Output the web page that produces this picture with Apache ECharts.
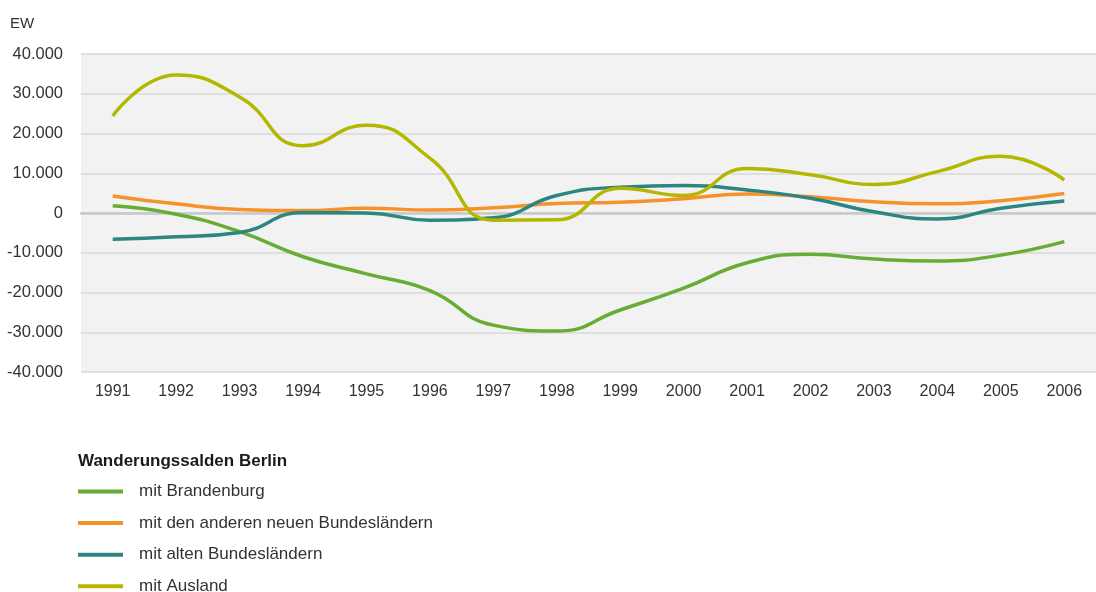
<!DOCTYPE html>
<html>
<head>
<meta charset="utf-8">
<script src="https://cdn.jsdelivr.net/npm/echarts@6/dist/echarts.min.js"></script>
<style>
  html, body { margin: 0; padding: 0; background: #fff; }
  #chart { width: 1096px; height: 592px; }
</style>
</head>
<body>
<div id="chart"></div>
<script>
// Jahre
const years = ["1991", "1992", "1993", "1994", "1995", "1996", "1997", "1998",
  "1999", "2000", "2001", "2002", "2003", "2004", "2005", "2006"];

// Wanderungssalden (EW)
const brandenburg = [1800, -300, -4700, -11000, -15300, -19500, -28200, -29700,
  -24400, -18900, -12500, -10400, -11600, -12100, -10600, -7200];
const neueLaender = [4300, 2300, 900, 600, 1200, 750, 1300, 2400,
  2700, 3600, 4800, 4100, 2800, 2300, 3100, 4900];
const alteLaender = [-6600, -6000, -4900, 100, 0, -1800, -1200, 4400,
  6500, 6900, 5800, 3700, 300, -1500, 1200, 3000];
const ausland = [24400, 34700, 29200, 16900, 22100, 13800, -1800, -1700,
  6200, 4400, 11200, 9600, 7200, 10400, 14300, 8300];

const seriesNames = ["mit Brandenburg", "mit den anderen neuen Bundesländern",
  "mit alten Bundesländern", "mit Ausland"];
const colors = ["#67ad35", "#f5922a", "#2b8681", "#b4b600"];

const font = "'Liberation Sans', Arial, sans-serif";

const chart = echarts.init(document.getElementById("chart"));

function line(name, data, color) {
  return {
    name: name,
    type: "line",
    data: data,
    smooth: 0.5,
    symbol: "none",
    lineStyle: { width: 3.5, color: color },
    itemStyle: { color: color }
  };
}

const option = {
  animation: false,
  textStyle: { fontFamily: font },
  title: [
    {
      text: "EW",
      left: 5,
      top: 11,
      textStyle: { fontSize: 15, fontWeight: "normal", color: "#333", fontFamily: font }
    },
    {
      text: "Wanderungssalden Berlin",
      left: 73,
      top: 448,
      textStyle: { fontSize: 17, fontWeight: "bold", color: "#1a1a1a", fontFamily: font }
    }
  ],
  legend: {
    orient: "vertical",
    left: 78,
    top: 483,
    height: 130,
    padding: 0,
    icon: "rect",
    itemWidth: 45,
    itemHeight: 4,
    itemGap: 14.6,
    textStyle: {
      fontSize: 17,
      color: "#333",
      fontFamily: font,
      lineHeight: 17,
      padding: [0, 0, 0, 11]
    },
    data: seriesNames
  },
  grid: {
    left: 81,
    right: -7,
    top: 54,
    bottom: 220,
    show: true,
    backgroundColor: "#f2f2f2",
    borderWidth: 0
  },
  xAxis: {
    type: "category",
    data: years,
    boundaryGap: true,
    axisLine: { onZero: true, lineStyle: { color: "#c8c8c8", width: 2.5 } },
    axisTick: { show: false },
    axisLabel: { fontSize: 16, color: "#333", fontFamily: font, margin: 12 }
  },
  yAxis: {
    type: "value",
    min: -40000,
    max: 40000,
    interval: 10000,
    axisLine: { show: false },
    axisTick: { show: false },
    splitLine: { lineStyle: { color: "#d8d8d8", width: 1.5 } },
    axisLabel: {
      fontSize: 16.5,
      color: "#333",
      fontFamily: font,
      margin: 18,
      formatter: function (v) {
        const s = Math.abs(v).toString().replace(/\B(?=(\d{3})+(?!\d))/g, ".");
        return (v < 0 ? "-" : "") + s;
      }
    }
  },
  series: [
    line(seriesNames[0], brandenburg, colors[0]),
    line(seriesNames[1], neueLaender, colors[1]),
    line(seriesNames[2], alteLaender, colors[2]),
    line(seriesNames[3], ausland, colors[3])
  ]
};

chart.setOption(option);
</script>
</body>
</html>
